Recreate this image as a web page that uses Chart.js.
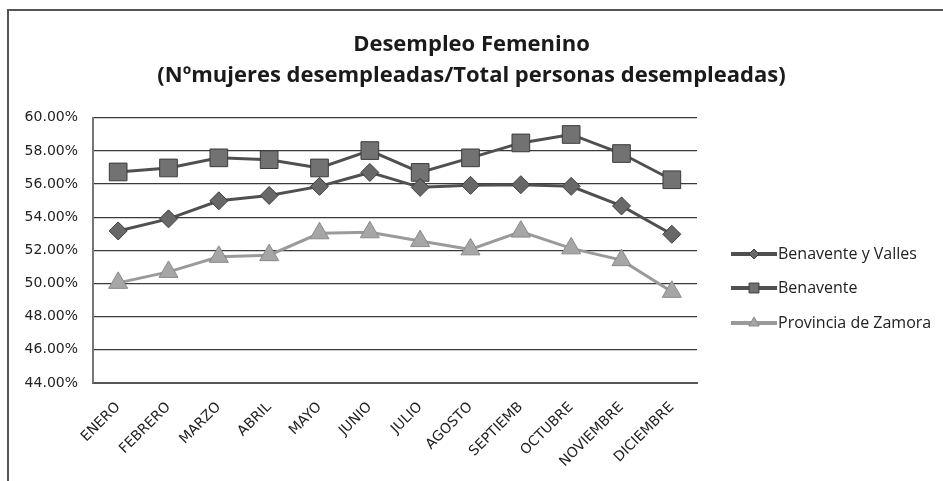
<!DOCTYPE html>
<html>
<head>
<meta charset="utf-8">
<script src="https://cdn.jsdelivr.net/npm/chart.js@4"></script>
<style>
html, body { margin: 0; padding: 0; background: #fff; width: 943px; height: 481px; overflow: hidden; }
#frame { position: absolute; left: 7px; top: 9px; width: 1000px; height: 600px; border-top: 2px solid #555; border-left: 2px solid #555; }
#chart { position: absolute; left: 0; top: 0; }
</style>
</head>
<body>
<div id="frame"></div>
<canvas id="chart" width="943" height="481"></canvas>
<script>
// datos (% de mujeres sobre el total de desempleados)
const meses = ['ENERO', 'FEBRERO', 'MARZO', 'ABRIL', 'MAYO', 'JUNIO', 'JULIO', 'AGOSTO', 'SEPTIEMB', 'OCTUBRE', 'NOVIEMBRE', 'DICIEMBRE']
const benaventeValles = [53.17, 53.90, 54.99, 55.31, 55.86, 56.70, 55.80, 55.92, 55.96, 55.86, 54.68, 52.97]
const benavente = [56.73, 56.97, 57.58, 57.47, 56.97, 58.02, 56.70, 57.58, 58.48, 58.99, 57.84, 56.26]
const provinciaZamora = [50.04, 50.70, 51.61, 51.71, 53.03, 53.09, 52.56, 52.06, 53.13, 52.12, 51.41, 49.50]
const nombresSeries = ['Benavente y Valles', 'Benavente', 'Provincia de Zamora']
const yMin = 44
const yMax = 60
const yPaso = 2

// leyenda: linea con marcador en el centro, como en el original
const leyenda = {
    id: 'leyenda',
    afterDraw(chart) {
        const ctx = chart.ctx
        const ys = [254, 288, 323]
        chart.data.datasets.forEach(function (ds, i) {
            let y = ys[i]
            ctx.save()
            ctx.strokeStyle = ds.borderColor
            ctx.lineWidth = 4
            ctx.beginPath()
            ctx.moveTo(731, y)
            ctx.lineTo(777, y)
            ctx.stroke()
            ctx.fillStyle = ds.pointBackgroundColor
            ctx.strokeStyle = ds.pointBorderColor
            ctx.lineWidth = 1
            Chart.helpers.drawPoint(ctx, { pointStyle: ds.pointStyle, radius: ds.legendRadius, rotation: 0, borderWidth: 1 }, 754, y)
            ctx.fillStyle = '#222'
            ctx.font = '16px "Open Sans"'
            ctx.textBaseline = 'middle'
            ctx.textAlign = 'left'
            ctx.fillText(ds.label, 778, y)
            ctx.restore()
        })
    }
}

let ctx = document.getElementById('chart').getContext('2d')
new Chart(ctx, {
    type: 'line',
    data: {
        labels: meses,
        datasets: [{
            label: nombresSeries[0],
            data: benaventeValles,
            borderColor: '#505050',
            borderWidth: 3,
            pointStyle: 'rectRot',
            pointRadius: 9,
            legendRadius: 5,
            pointBackgroundColor: '#686868',
            pointBorderColor: '#3c3c3c',
            pointBorderWidth: 1
        }, {
            label: nombresSeries[1],
            data: benavente,
            borderColor: '#505050',
            borderWidth: 3,
            pointStyle: 'rect',
            pointRadius: 12.5,
            legendRadius: 7,
            pointBackgroundColor: '#727272',
            pointBorderColor: '#3c3c3c',
            pointBorderWidth: 1
        }, {
            label: nombresSeries[2],
            data: provinciaZamora,
            borderColor: '#9a9a9a',
            borderWidth: 3,
            pointStyle: 'triangle',
            pointRadius: 11,
            legendRadius: 6,
            pointBackgroundColor: '#a6a6a6',
            pointBorderColor: '#8a8a8a',
            pointBorderWidth: 1
        }]
    },
    options: {
        responsive: false,
        animation: false,
        layout: { padding: 0 },
        plugins: {
            legend: { display: false },
            tooltip: { enabled: false },
            title: {
                display: true,
                text: ['Desempleo Femenino', '(Nºmujeres desempleadas/Total personas desempleadas)'],
                color: '#1a1a1a',
                font: { family: '"Open Sans"', size: 22, weight: 'bold', lineHeight: 1.38 },
                padding: { top: 30, bottom: 27 }
            }
        },
        scales: {
            x: {
                offset: true,
                grid: { display: false, offset: true },
                border: { display: true, color: '#555', width: 2 },
                ticks: {
                    autoSkip: false,
                    minRotation: 45,
                    maxRotation: 45,
                    padding: 8,
                    color: '#222',
                    font: { family: '"DejaVu Sans"', size: 14 }
                },
                afterFit(s) { s.height = 98 }
            },
            y: {
                min: yMin,
                max: yMax,
                grid: { color: '#3a3a3a', lineWidth: 1.3, drawTicks: false },
                border: { display: true, color: '#777', width: 2 },
                ticks: {
                    stepSize: yPaso,
                    padding: 15,
                    color: '#222',
                    font: { family: '"DejaVu Sans"', size: 14 },
                    callback: function (v) { return v.toFixed(2) + '%' }
                },
                afterFit(s) { s.width = 93 }
            },
            hueco: {
                type: 'linear',
                position: 'right',
                grid: { display: false },
                border: { display: false },
                ticks: { display: false },
                afterFit(s) { s.width = 246 }
            }
        }
    },
    plugins: [leyenda]
})
</script>
</body>
</html>
